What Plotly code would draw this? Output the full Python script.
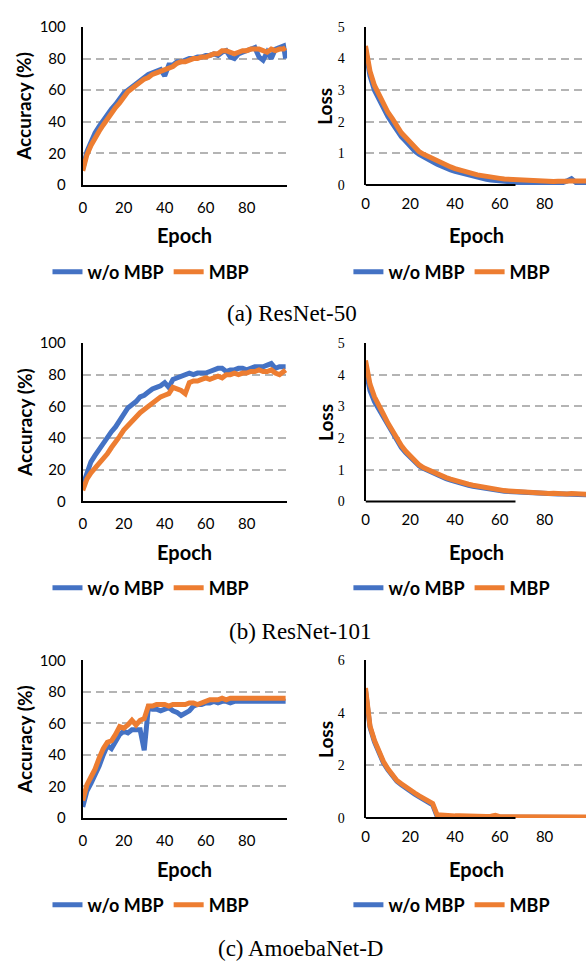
"""Accuracy / loss curves with and without MBP for three networks."""

import plotly.graph_objects as go
from plotly.subplots import make_subplots

EPOCHS = list(range(0, 100, 2)) + [99]

# (a) ResNet-50
resnet50_acc_base = [10, 21, 27, 33, 37, 41, 45, 48, 51, 55,
                     58, 60, 62, 64, 66, 68, 70, 71, 72, 73,
                     69, 76, 76, 78, 78, 79, 80, 80, 81, 81,
                     82, 82, 83, 82, 84, 85, 81, 80, 83, 84,
                     85, 86, 87, 81, 79, 84, 80, 86, 87, 88,
                     80]
resnet50_acc_mbp = [9, 19, 25, 30, 34, 38, 42, 46, 49, 52,
                    56, 59, 61, 63, 65, 67, 68, 70, 71, 72,
                    73, 74, 75, 77, 78, 78, 79, 80, 80, 81,
                    81, 82, 83, 83, 85, 85, 84, 83, 84, 85,
                    85, 86, 86, 86, 85, 84, 86, 85, 86, 86,
                    87]
resnet50_loss_base = [4.3, 3.45, 3.0, 2.7, 2.4, 2.17, 1.95, 1.72, 1.53, 1.38,
                      1.22, 1.07, 0.97, 0.88, 0.8, 0.73, 0.66, 0.59, 0.53, 0.48,
                      0.43, 0.39, 0.35, 0.31, 0.28, 0.24, 0.21, 0.18, 0.16, 0.14,
                      0.12, 0.1, 0.09, 0.08, 0.07, 0.06, 0.06, 0.06, 0.05, 0.05,
                      0.05, 0.05, 0.05, 0.06, 0.07, 0.13, 0.2, 0.08, 0.06, 0.05,
                      0.05]
resnet50_loss_mbp = [4.4, 3.6, 3.15, 2.85, 2.55, 2.3, 2.1, 1.85, 1.65, 1.5,
                     1.33, 1.17, 1.05, 0.97, 0.9, 0.83, 0.75, 0.68, 0.62, 0.57,
                     0.52, 0.47, 0.43, 0.39, 0.36, 0.32, 0.29, 0.26, 0.24, 0.22,
                     0.21, 0.19, 0.18, 0.16, 0.15, 0.14, 0.14, 0.16, 0.15, 0.13,
                     0.13, 0.12, 0.11, 0.12, 0.11, 0.12, 0.13, 0.12, 0.12, 0.12,
                     0.13]

# (b) ResNet-101
resnet101_acc_base = [10, 18, 25, 29, 33, 37, 41, 44, 47, 51,
                      54, 59, 61, 63, 66, 67, 69, 71, 72, 73,
                      75, 72, 77, 78, 79, 80, 81, 80, 81, 81,
                      81, 82, 83, 84, 84, 82, 83, 83, 84, 84,
                      83, 84, 85, 85, 85, 86, 87, 84, 85, 85,
                      85]
resnet101_acc_mbp = [7, 14, 18, 21, 23, 27, 30, 34, 37, 41,
                     45, 48, 51, 53, 56, 58, 60, 62, 64, 66,
                     67, 68, 72, 71, 70, 68, 75, 76, 76, 77,
                     78, 77, 78, 79, 78, 80, 80, 81, 80, 81,
                     81, 82, 82, 83, 82, 82, 83, 81, 80, 82,
                     83]
resnet101_loss_base = [4.2, 3.5, 3.15, 2.9, 2.62, 2.37, 2.13, 1.9, 1.7, 1.53,
                       1.38, 1.24, 1.12, 1.04, 0.97, 0.9, 0.83, 0.77, 0.72, 0.67,
                       0.62, 0.58, 0.54, 0.51, 0.48, 0.45, 0.42, 0.4, 0.38, 0.36,
                       0.34, 0.32, 0.31, 0.3, 0.29, 0.28, 0.27, 0.27, 0.26, 0.25,
                       0.25, 0.24, 0.24, 0.23, 0.23, 0.22, 0.22, 0.22, 0.21, 0.21,
                       0.21]
resnet101_loss_mbp = [4.45, 3.7, 3.3, 3.05, 2.75, 2.47, 2.22, 1.98, 1.76, 1.58,
                      1.42, 1.27, 1.15, 1.06, 0.99, 0.93, 0.86, 0.8, 0.75, 0.7,
                      0.65, 0.61, 0.57, 0.54, 0.51, 0.48, 0.45, 0.42, 0.4, 0.38,
                      0.36, 0.34, 0.33, 0.32, 0.3, 0.3, 0.28, 0.29, 0.27, 0.26,
                      0.27, 0.25, 0.26, 0.24, 0.25, 0.23, 0.25, 0.23, 0.22, 0.23,
                      0.22]

# (c) AmoebaNet-D
amoeba_acc_base = [7, 17, 22, 27, 33, 40, 46, 44, 49, 53,
                   55, 54, 56, 56, 56, 43, 70, 69, 69, 68,
                   69, 70, 68, 67, 65, 67, 68, 71, 72, 72,
                   73, 73, 74, 73, 74, 74, 73, 74, 74, 74,
                   74, 74, 74, 74, 74, 74, 74, 74, 74, 74,
                   74]
amoeba_acc_mbp = [11, 21, 26, 31, 38, 44, 48, 49, 53, 58,
                  57, 59, 62, 59, 62, 63, 71, 71, 72, 72,
                  72, 71, 72, 72, 72, 72, 73, 73, 72, 73,
                  74, 75, 75, 75, 76, 75, 76, 76, 76, 76,
                  76, 76, 76, 76, 76, 76, 76, 76, 76, 76,
                  76]
amoeba_loss_base = [4.85, 3.45, 2.9, 2.45, 2.1, 1.83, 1.58, 1.4, 1.26, 1.13,
                    1.01, 0.91, 0.8, 0.7, 0.61, 0.5, 0.06, 0.04, 0.04, 0.03,
                    0.03, 0.03, 0.03, 0.03, 0.03, 0.02, 0.02, 0.02, 0.02, 0.03,
                    0.02, 0.02, 0.02, 0.02, 0.02, 0.02, 0.02, 0.02, 0.02, 0.02,
                    0.02, 0.02, 0.02, 0.02, 0.02, 0.02, 0.02, 0.02, 0.02, 0.02,
                    0.02]
amoeba_loss_mbp = [4.95, 3.5, 2.95, 2.5, 2.15, 1.87, 1.62, 1.43, 1.3, 1.17,
                   1.05, 0.95, 0.84, 0.74, 0.65, 0.55, 0.12, 0.1, 0.09, 0.08,
                   0.08, 0.08, 0.07, 0.07, 0.07, 0.06, 0.06, 0.06, 0.07, 0.1,
                   0.05, 0.05, 0.04, 0.04, 0.04, 0.04, 0.04, 0.04, 0.04, 0.04,
                   0.04, 0.04, 0.04, 0.04, 0.04, 0.04, 0.04, 0.04, 0.04, 0.04,
                   0.04]

CAPTIONS = ["(a) ResNet-50", "(b) ResNet-101", "(c) AmoebaNet-D"]
SERIES_NAMES = ["w/o MBP", "MBP"]
LOSS_MAX = [5, 5, 6]
LOSS_DTICK = [1, 1, 2]

BLUE = "#4472C4"
ORANGE = "#ED7D31"
SANS = "Lato"
SERIF = "Liberation Serif"

W, H = 586, 967

panels = [
    (resnet50_acc_base, resnet50_acc_mbp, resnet50_loss_base, resnet50_loss_mbp),
    (resnet101_acc_base, resnet101_acc_mbp, resnet101_loss_base, resnet101_loss_mbp),
    (amoeba_acc_base, amoeba_acc_mbp, amoeba_loss_base, amoeba_loss_mbp),
]

# pixel layout of each row: (plot top, plot bottom, epoch label y, legend y, caption x, caption y)
rows_px = [
    (17.3, 178.3, 229, 267, 290, 309),
    (339.3, 500.7, 552, 589, 298, 633),
    (662.7, 823.3, 875, 912, 299, 956),
]
left_px = (79.3, 285)
right_px = (364, W)


def px_x(x):
    return x / W


def px_y(y):
    return 1 - y / H


fig = make_subplots(rows=3, cols=2)

legend_id = 1
for r, (acc_b, acc_m, loss_b, loss_m) in enumerate(panels):
    for c, (ser_b, ser_m) in enumerate([(acc_b, acc_m), (loss_b, loss_m)]):
        lg = "legend" if legend_id == 1 else f"legend{legend_id}"
        for name, vals, color in [(SERIES_NAMES[0], ser_b, BLUE),
                                  (SERIES_NAMES[1], ser_m, ORANGE)]:
            fig.add_trace(
                go.Scatter(x=EPOCHS, y=vals, mode="lines", name=name,
                           line=dict(color=color, width=5),
                           legend=lg, hoverinfo="skip"),
                row=r + 1, col=c + 1
            )
        legend_id += 1

grid = dict(showgrid=True, gridcolor="#b4b4b4", gridwidth=1.5, griddash="8px,5px")

legends = {}
annotations = []
shapes = []
legend_id = 1


def text_note(text, x, y, size, family=SANS, angle=0):
    return dict(text=text, x=px_x(x), y=px_y(y), xref="paper", yref="paper",
                xanchor="center", yanchor="middle", showarrow=False, textangle=angle,
                font=dict(family=family, size=size, color="#000"))


for r, (top, bottom, epoch_y, leg_y, cap_x, cap_y) in enumerate(rows_px):
    ydom = [px_y(bottom), px_y(top)]
    for c in range(2):
        idx = r * 2 + c + 1
        sfx = "" if idx == 1 else str(idx)
        xpx = left_px if c == 0 else right_px
        xdom = [px_x(xpx[0]), min(1.0, px_x(xpx[1]))]
        if c == 0:
            xrange = [0, 99.7]
            yaxis = dict(range=[0, 100], dtick=20, tickfont=dict(family=SANS, size=15, color="#000"),
                         ticklabelstandoff=12)
        else:
            xrange = [0, 98.5]
            yaxis = dict(range=[0, LOSS_MAX[r]], dtick=LOSS_DTICK[r],
                         tickfont=dict(family=SERIF, size=14, color="#000"),
                         ticklabelstandoff=16)
        fig.layout["xaxis" + sfx].update(
            domain=xdom, range=xrange, dtick=20, showline=(c == 0), linecolor="#000",
            linewidth=2, showgrid=False, zeroline=False, ticks="",
            tickfont=dict(family=SANS, size=15, color="#000"), ticklabelstandoff=8
        )
        fig.layout["yaxis" + sfx].update(
            domain=ydom, showline=True, linecolor="#000", linewidth=2, zeroline=False,
            ticks="", **grid, **yaxis
        )
        if c == 1:
            # bottom axis line in the source image stops around epoch 67
            shapes.append(dict(type="line", xref="x" + sfx, yref=f"y{sfx} domain",
                               x0=0, x1=67, y0=0, y1=0, line=dict(color="#000", width=2)))

        cx = (xpx[0] + xpx[1]) / 2 if c == 0 else 476
        annotations.append(text_note("<b>Epoch</b>", cx, epoch_y, 20))
        label = "Accuracy (%)" if c == 0 else "Loss"
        lx = 20 if c == 0 else 323
        annotations.append(text_note(f"<b>{label}</b>", lx, (top + bottom) / 2, 19, angle=-90))

        lg = "legend" if legend_id == 1 else f"legend{legend_id}"
        legends[lg] = dict(orientation="h", x=px_x(148 if c == 0 else 451), y=px_y(leg_y),
                           xanchor="center", yanchor="middle", bgcolor="rgba(0,0,0,0)",
                           font=dict(family=SANS, size=18, color="#000", weight="bold"),
                           itemwidth=30, tracegroupgap=0)
        legend_id += 1

    annotations.append(text_note(CAPTIONS[r], cap_x, cap_y, 23, family=SERIF))

fig.update_layout(
    width=W, height=H,
    margin=dict(l=0, r=0, t=0, b=0),
    plot_bgcolor="white", paper_bgcolor="white",
    showlegend=True,
    annotations=annotations,
    shapes=shapes,
    **legends
)

fig.write_html("out.html", config={"displayModeBar": False},
               post_script="document.body.style.margin='0';"
                           "document.body.style.overflow='hidden';")
